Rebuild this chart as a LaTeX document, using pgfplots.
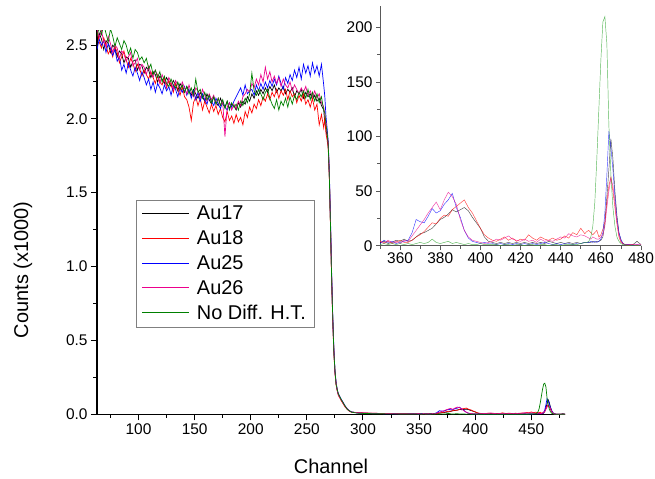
\documentclass[border=0pt]{standalone}
\usepackage{fontspec}
\setmainfont{Liberation Sans}
\usepackage{pgfplots}
\pgfplotsset{compat=1.18}
\usepackage{pgfplotstable}

% channel, counts of Au17 Au18 Au25 Au26 and No Diff. H.T.
\pgfplotstableread{
x a17 a18 a25 a26 nd
63 2500 2590 2470 2610 2560
65 2580 2520 2540 2550 2620
67 2540 2480 2500 2600 2570
69 2470 2550 2530 2520 2640
71 2530 2500 2450 2490 2580
73 2510 2440 2510 2560 2520
75 2450 2470 2480 2510 2610
77 2500 2420 2430 2450 2560
79 2480 2490 2470 2500 2490
81 2420 2450 2390 2480 2550
83 2460 2380 2420 2410 2510
85 2440 2420 2330 2460 2470
87 2380 2460 2370 2440 2530
89 2420 2400 2310 2390 2500
91 2410 2350 2380 2420 2440
93 2350 2410 2330 2450 2480
95 2390 2380 2290 2360 2410
97 2400 2320 2350 2380 2470
99 2330 2370 2310 2410 2450
101 2370 2340 2260 2330 2400
103 2360 2290 2320 2370 2420
105 2310 2330 2280 2350 2380
107 2350 2300 2230 2300 2410
109 2330 2270 2270 2360 2340
111 2280 2320 2200 2310 2370
113 2320 2280 2250 2280 2300
115 2300 2240 2180 2330 2330
117 2250 2300 2240 2290 2280
119 2290 2250 2210 2240 2320
121 2270 2230 2170 2300 2250
123 2240 2280 2230 2260 2290
125 2280 2210 2190 2220 2240
127 2250 2260 2220 2280 2220
129 2220 2230 2160 2250 2270
131 2260 2180 2230 2200 2230
133 2230 2240 2200 2260 2210
135 2190 2200 2150 2230 2250
137 2240 2160 2210 2190 2200
139 2210 2220 2180 2250 2230
141 2180 2150 2220 2210 2180
143 2220 2130 2160 2170 2220
145 2190 2080 2200 2230 2170
147 2160 1990 2140 2180 2210
149 2200 2110 2190 2150 2160
151 2170 2150 2130 2210 2270
153 2140 2090 2180 2190 2180
155 2180 2140 2120 2140 2200
157 2150 2060 2170 2200 2140
159 2120 2120 2130 2160 2180
161 2170 2080 2100 2120 2130
163 2130 2040 2160 2170 2160
165 2100 2100 2120 2130 2110
167 2150 2050 2090 2160 2150
169 2110 2090 2140 2100 2100
171 2090 2030 2100 2140 2140
173 2140 2070 2070 2090 2090
175 2100 2010 2120 2120 2130
177 2080 1980 2080 1880 2070
179 2120 2050 2060 2080 2120
181 2070 1990 2110 2110 2060
183 2100 2020 2080 2060 2110
185 2090 1970 2120 2100 2080
187 2060 2030 2150 2070 2100
189 2110 1980 2180 2120 2060
191 2080 2010 2210 2090 2120
193 2120 1960 2160 2150 2090
195 2100 2050 2230 2170 2140
197 2150 2010 2170 2200 2110
199 2120 2080 2190 2180 2170
201 2170 2040 2200 2240 2310
203 2140 2100 2160 2210 2190
205 2190 2070 2230 2270 2160
207 2160 2130 2190 2230 2200
209 2200 2090 2240 2300 2170
211 2170 2150 2200 2250 2130
213 2210 2120 2250 2350 2180
215 2180 2170 2210 2270 2200
217 2220 2130 2260 2320 2140
219 2190 2180 2220 2250 2100
221 2230 2150 2270 2290 2070
223 2180 2200 2230 2240 2130
225 2210 2140 2290 2280 2060
227 2190 2190 2240 2220 2120
229 2220 2160 2200 2270 2090
231 2170 2200 2280 2230 2140
233 2200 2130 2240 2210 2080
235 2180 2190 2300 2250 2150
237 2210 2150 2260 2190 2100
239 2150 2170 2330 2230 2160
241 2190 2110 2280 2200 2130
243 2170 2160 2350 2170 2180
245 2200 2120 2270 2210 2150
247 2140 2170 2370 2180 2190
249 2180 2100 2310 2220 2140
251 2150 2130 2360 2160 2200
253 2170 2080 2290 2190 2130
255 2130 2140 2380 2150 2180
257 2160 2060 2310 2190 2120
259 2120 2100 2360 2140 2170
261 2140 1960 2290 2170 2110
263 2090 2030 2370 2110 2150
265 2060 1940 2230 2080 2060
266 1970 2010 2150 2030 2040
267 1930 1900 2020 1980 1960
268 1880 1860 1940 1900 1910
269 1820 1800 1850 1840 1830
270 1620 1600 1650 1630 1610
271 1300 1280 1340 1310 1290
272 950 930 980 960 940
273 660 640 680 650 670
274 440 420 460 450 430
275 290 280 300 290 300
276 210 200 220 215 205
277 165 160 170 165 170
278 135 130 140 135 140
280 105 100 110 105 108
282 80 75 85 80 82
284 55 50 58 54 56
286 35 33 38 36 34
288 22 20 24 21 23
290 15 14 16 15 14
295 10 12 9 11 8
300 8 10 7 9 6
305 7 8 6 8 5
310 6 7 5 7 4
315 5 6 5 6 4
320 5 6 4 5 3
325 4 5 4 5 3
330 4 5 3 4 3
335 3 4 3 4 2
340 4 3 3 4 2
345 3 4 4 3 2
350 3 4 2 4 1
352 4 3 5 2 2
354 2 4 3 5 1
356 3 2 4 3 2
358 5 3 2 4 1
360 4 5 3 2 2
362 6 3 4 5 1
364 4 3 5 4 2
366 5 5 12 9 1
368 8 8 24 14 2
370 11 10 22 19 3
372 12 13 21 24 2
374 14 17 27 30 3
376 16 21 34 35 6
378 20 20 30 40 3
380 24 25 32 33 2
382 26 28 38 42 3
384 29 27 42 49 4
386 33 33 48 45 2
388 31 36 35 38 3
390 33 39 26 24 2
392 35 42 14 14 1
394 32 35 7 8 2
396 26 30 4 5 1
398 21 23 3 4 1
400 16 16 2 3 2
402 8 10 3 2 1
404 4 7 2 3 1
406 3 5 2 4 1
408 2 4 1 6 1
410 3 6 2 5 0
412 2 8 1 7 1
414 3 5 2 9 1
416 2 7 1 6 0
418 3 4 2 5 1
420 2 6 1 4 1
422 3 5 2 6 0
424 2 10 1 4 1
426 3 7 2 5 1
428 2 5 1 3 0
430 3 8 2 6 1
432 2 6 3 4 1
434 4 5 2 5 0
436 3 7 1 4 1
438 2 5 2 6 1
440 3 6 1 8 0
442 2 9 2 7 1
444 3 7 2 11 1
446 2 12 1 9 1
448 3 10 2 8 1
450 2 16 2 10 2
452 3 11 3 9 3
453 3 13 3 8 3
454 3 14 3 7 4
455 3 12 4 6 8
456 4 10 3 8 18
457 3 12 4 7 40
458 4 14 3 6 80
459 4 8 4 6 125
460 5 10 6 8 170
461 8 15 12 10 205
462 20 22 30 18 210
463 45 40 65 35 185
464 70 55 105 50 110
465 98 63 90 62 65
466 80 50 70 55 35
467 50 35 45 40 18
468 28 20 25 22 8
469 12 8 12 10 4
470 5 3 6 4 2
471 2 2 2 2 1
472 1 1 1 1 1
474 1 0 1 1 0
476 1 1 0 1 0
478 4 0 1 1 0
480 1 0 0 1 0
}\spec

\definecolor{ndgreen}{RGB}{0,128,0}
\definecolor{ndlight}{RGB}{60,170,60}

\begin{document}
\begin{tikzpicture}
\useasboundingbox (0,0) rectangle (655bp,479bp);

\begin{axis}[
  at={(97bp,64.7bp)}, anchor=south west,
  scale only axis, width=468bp, height=384bp,
  xmin=63, xmax=480, ymin=0, ymax=2.6,
  axis x line*=bottom, axis y line*=left,
  axis line style={line width=1.1pt},
  xtick={100,150,...,450}, minor xtick={75,125,...,475},
  ytick={0,0.5,1,1.5,2,2.5}, minor ytick={0.25,0.75,1.25,1.75,2.25},
  tick align=outside, major tick length=6bp, minor tick length=3.5bp,
  tick style={black, line width=1pt},
  /pgf/number format/assume math mode=true,
  yticklabel style={/pgf/number format/.cd, fixed, fixed zerofill, precision=1},
  ticklabel style={font=\fontsize{15.5}{18}\selectfont},
  xlabel={Channel}, ylabel={Counts (x1000)},
  label style={font=\fontsize{20}{24}\selectfont},
  xlabel style={at={(axis description cs:0.5,-0.1346)}, anchor=center},
  ylabel style={at={(axis description cs:-0.158,0.376)}, anchor=center},
  legend cell align=left,
  legend image code/.code={\draw[#1, line width=1.1pt] (0bp,0bp) -- (47bp,0bp);},
  legend style={at={(axis description cs:0.0827,0.558)}, anchor=north west,
    draw=gray, font=\fontsize{20}{24}\selectfont,
    inner xsep=6bp, inner ysep=4bp, row sep=5.3bp, column sep=5bp},
]
\addplot[draw=black, line width=0.7pt] table[x=x, y expr=\thisrow{a17}/1000] {\spec};
\addlegendentry{Au17}
\addplot[draw=red, line width=0.7pt] table[x=x, y expr=\thisrow{a18}/1000] {\spec};
\addlegendentry{Au18}
\addplot[draw=blue, line width=0.7pt] table[x=x, y expr=\thisrow{a25}/1000] {\spec};
\addlegendentry{Au25}
\addplot[draw=magenta, line width=0.7pt] table[x=x, y expr=\thisrow{a26}/1000] {\spec};
\addlegendentry{Au26}
\addplot[draw=ndgreen, line width=0.7pt] table[x=x, y expr=\thisrow{nd}/1000] {\spec};
\addlegendentry{No Diff. H.T.}
\end{axis}

\begin{axis}[
  at={(380bp,233.3bp)}, anchor=south west,
  scale only axis, width=261bp, height=240bp,
  xmin=350, xmax=480, ymin=0, ymax=220,
  axis x line*=bottom, axis y line*=left,
  axis line style={black!65, line width=0.8pt},
  xtick={360,380,...,480}, minor xtick={350,370,...,470},
  ytick={0,50,100,150,200}, minor ytick={25,75,125,175},
  tick align=outside, major tick length=4bp, minor tick length=3bp,
  tick style={black!65, line width=0.8pt},
  /pgf/number format/assume math mode=true,
  ticklabel style={font=\fontsize{15.5}{18}\selectfont},
  axis background/.style={fill=white},
]
\addplot[draw=black, line width=0.45pt, opacity=0.7] table[x=x, y=a17] {\spec};
\addplot[draw=red, line width=0.45pt, opacity=0.75] table[x=x, y=a18] {\spec};
\addplot[draw=blue, line width=0.45pt, opacity=0.75] table[x=x, y=a25] {\spec};
\addplot[draw=magenta, line width=0.45pt, opacity=0.75] table[x=x, y=a26] {\spec};
\addplot[draw=ndlight, line width=0.45pt, opacity=0.85] table[x=x, y=nd] {\spec};
\end{axis}
\end{tikzpicture}
\end{document}
